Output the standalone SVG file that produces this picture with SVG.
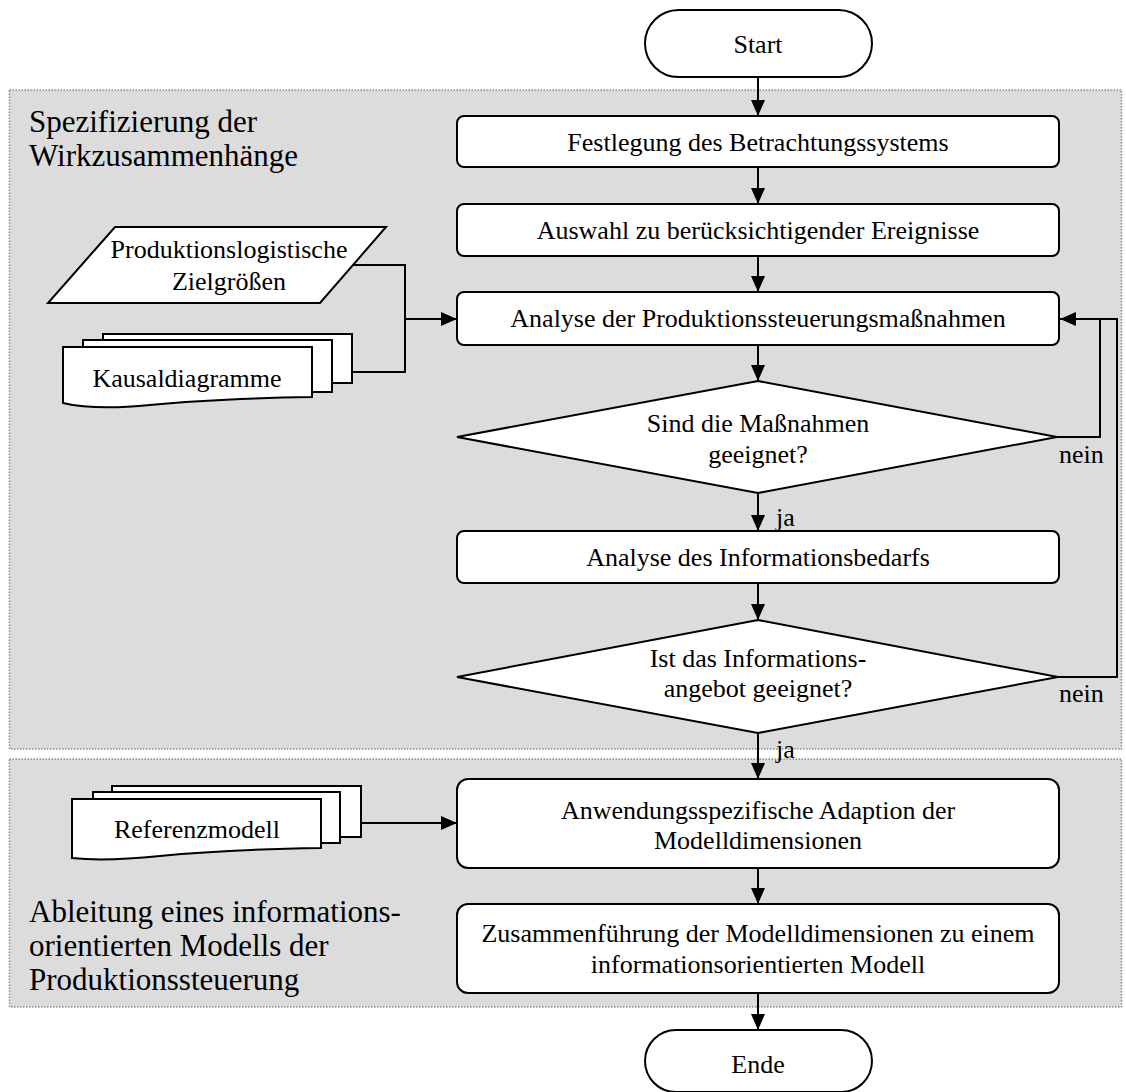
<svg xmlns="http://www.w3.org/2000/svg" width="1126" height="1092" viewBox="0 0 1126 1092">
  <style>
    .section { fill: #dcdcdc; stroke: #8c8c8c; stroke-width: 1.5; stroke-dasharray: 1.5 1.5; }
    .shape { fill: #ffffff; stroke: #000000; stroke-width: 2; }
    .edge { fill: none; stroke: #000000; stroke-width: 2; }
    text { font-family: "Liberation Serif", "Times New Roman", serif; fill: #000000; }
    .lbl { font-size: 26px; text-anchor: middle; }
    .side { font-size: 26px; }
    .title { font-size: 31px; }
  </style>
  <defs>
    <marker id="arrow" markerUnits="userSpaceOnUse" markerWidth="16" markerHeight="14" refX="16" refY="7" orient="auto">
      <path d="M0,0 L16,7 L0,14 Z" fill="#000000"/>
    </marker>
  </defs>

  <rect width="1126" height="1092" fill="#ffffff"/>

  <!-- swimlane sections -->
  <g id="section-wirkzusammenhaenge">
    <rect class="section" x="9.5" y="90" width="1112" height="659"/>
    <text class="title" x="29" y="132">Spezifizierung der</text>
    <text class="title" x="29" y="166">Wirkzusammenhänge</text>
  </g>
  <g id="section-modell">
    <rect class="section" x="9.5" y="759" width="1112" height="248"/>
    <text class="title" x="29" y="922">Ableitung eines informations-</text>
    <text class="title" x="29" y="956">orientierten Modells der</text>
    <text class="title" x="29" y="990">Produktionssteuerung</text>
  </g>

  <!-- connectors -->
  <g id="connectors">
    <path class="edge" d="M758,77 V116" marker-end="url(#arrow)"/>
    <path class="edge" d="M758,167 V204" marker-end="url(#arrow)"/>
    <path class="edge" d="M758,256 V292" marker-end="url(#arrow)"/>
    <path class="edge" d="M758,345 V381" marker-end="url(#arrow)"/>
    <path class="edge" d="M758,493 V531" marker-end="url(#arrow)"/>
    <path class="edge" d="M758,583 V620" marker-end="url(#arrow)"/>
    <path class="edge" d="M758,733 V779" marker-end="url(#arrow)"/>
    <path class="edge" d="M758,868 V904" marker-end="url(#arrow)"/>
    <path class="edge" d="M758,993 V1030" marker-end="url(#arrow)"/>
    <path class="edge" d="M1057,437 H1100 V319"/>
    <path class="edge" d="M1058,677 H1117 V319 H1060" marker-end="url(#arrow)"/>
    <path class="edge" d="M353,265 H405 V372 H352"/>
    <path class="edge" d="M405,319 H457" marker-end="url(#arrow)"/>
    <path class="edge" d="M361,823 H457" marker-end="url(#arrow)"/>
    <text class="side" x="776" y="526">ja</text>
    <text class="side" x="776" y="758">ja</text>
    <text class="side" x="1059" y="463">nein</text>
    <text class="side" x="1059" y="702">nein</text>
  </g>

  <!-- flow nodes -->
  <g id="start">
    <rect class="shape" x="645" y="10" width="227" height="67" rx="33.5"/>
    <text class="lbl" x="758" y="53">Start</text>
  </g>
  <g id="festlegung">
    <rect class="shape" x="457" y="116" width="602" height="51" rx="7"/>
    <text class="lbl" x="758" y="151">Festlegung des Betrachtungssystems</text>
  </g>
  <g id="auswahl">
    <rect class="shape" x="457" y="204" width="602" height="52" rx="7"/>
    <text class="lbl" x="758" y="239">Auswahl zu berücksichtigender Ereignisse</text>
  </g>
  <g id="analyse-massnahmen">
    <rect class="shape" x="457" y="292" width="602" height="53" rx="7"/>
    <text class="lbl" x="758" y="327">Analyse der Produktionssteuerungsmaßnahmen</text>
  </g>
  <g id="entscheidung-massnahmen">
    <polygon class="shape" points="758,381 1057,437 758,493 457,437"/>
    <text class="lbl" x="758" y="432">Sind die Maßnahmen</text>
    <text class="lbl" x="758" y="463">geeignet?</text>
  </g>
  <g id="analyse-informationsbedarf">
    <rect class="shape" x="457" y="531" width="602" height="52" rx="7"/>
    <text class="lbl" x="758" y="566">Analyse des Informationsbedarfs</text>
  </g>
  <g id="entscheidung-informationsangebot">
    <polygon class="shape" points="758,620 1058,677 758,733 457,677"/>
    <text class="lbl" x="758" y="667">Ist das Informations-</text>
    <text class="lbl" x="758" y="697">angebot geeignet?</text>
  </g>
  <g id="adaption">
    <rect class="shape" x="457" y="779" width="602" height="89" rx="11"/>
    <text class="lbl" x="758" y="819">Anwendungsspezifische Adaption der</text>
    <text class="lbl" x="758" y="849">Modelldimensionen</text>
  </g>
  <g id="zusammenfuehrung">
    <rect class="shape" x="457" y="904" width="602" height="89" rx="11"/>
    <text class="lbl" x="758" y="942">Zusammenführung der Modelldimensionen zu einem</text>
    <text class="lbl" x="758" y="973">informationsorientierten Modell</text>
  </g>
  <g id="ende">
    <rect class="shape" x="645" y="1030" width="227" height="62" rx="31"/>
    <text class="lbl" x="758" y="1073">Ende</text>
  </g>

  <!-- inputs -->
  <g id="zielgroessen">
    <polygon class="shape" points="115,227 386,227 320,303 48,303"/>
    <text class="lbl" x="229" y="258">Produktionslogistische</text>
    <text class="lbl" x="229" y="290">Zielgrößen</text>
  </g>
  <g id="kausaldiagramme">
    <rect class="shape" x="103" y="334" width="249" height="49"/>
    <rect class="shape" x="83" y="340" width="249" height="52"/>
    <path class="shape" d="M63,347 H312 V397 C250,398 200,400 150,405 C110,409 80,407 63,403 Z"/>
    <text class="lbl" x="187" y="387">Kausaldiagramme</text>
  </g>
  <g id="referenzmodell">
    <rect class="shape" x="112" y="786" width="249" height="51"/>
    <rect class="shape" x="93" y="792" width="247" height="51"/>
    <path class="shape" d="M72,799 H321 V848 C260,849 210,851 160,856 C120,860 90,860 72,858 Z"/>
    <text class="lbl" x="197" y="838">Referenzmodell</text>
  </g>
</svg>
